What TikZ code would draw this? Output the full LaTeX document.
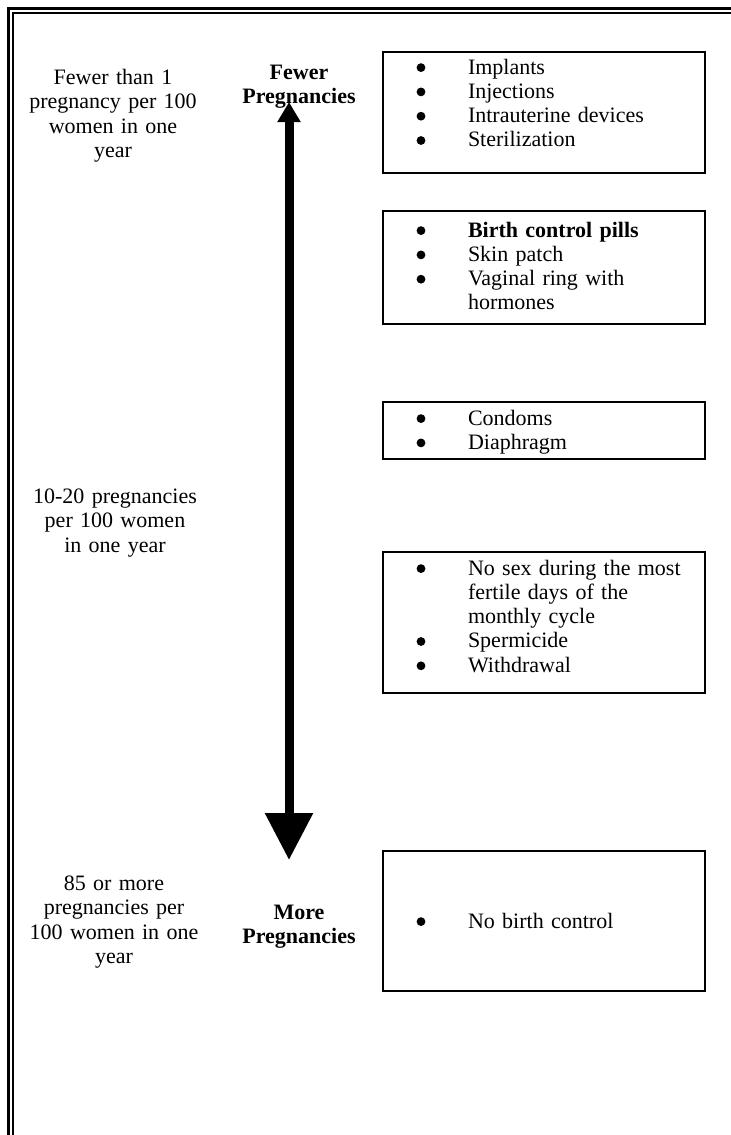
\documentclass[tikz,border=0pt]{standalone}
\usepackage{fontspec}
\setmainfont{Liberation Serif}
\usetikzlibrary{arrows.meta}
\newcommand{\dotmark}{\tikz[baseline=-3.2pt]\fill (0pt,0pt) circle (2.2pt);}
\newcommand{\itm}[1]{\makebox[42.5pt][l]{\hspace{16.8pt}\dotmark}#1}
\newcommand{\cnt}[1]{\hspace*{42.5pt}#1}

\begin{document}
\begin{tikzpicture}[x=0.5pt,y=-0.5pt,
   every node/.style={font=\fontsize{11}{12.15}\selectfont},
   listbox/.style={draw,line width=0.9pt,anchor=north west,inner sep=0pt,outer sep=0pt,text width=161pt,align=left},
   sidetext/.style={anchor=north,inner sep=0pt,text width=100pt,align=center,text height=8pt},
   endtext/.style={sidetext,text width=70pt,font=\fontsize{11}{11.8}\selectfont\bfseries},
   scale arrow/.style={line width=4.5pt,{Triangle[width=11pt,length=10pt]}-{Triangle[width=23pt,length=23.5pt]}}]
   \useasboundingbox (0,0) rectangle (730,1135);
   \draw[line width=1.5pt] (8.5,1140) -- (8.5,8.5) -- (735,8.5);
   \draw[line width=0.75pt] (13,1140) -- (13,13) -- (735,13);

   \node[sidetext] (l_1) at (113,68) {Fewer than 1\\pregnancy per 100\\women in one\\year};
   \node[sidetext] (l_2) at (115,487) {10-20 pregnancies\\per 100 women\\in one year};
   \node[sidetext] (l_3) at (114,874) {85 or more\\pregnancies per\\100 women in one\\year};

   \node[endtext] (p_few) at (299,63) {Fewer\\Pregnancies};
   \node[endtext] (p_more) at (299,903) {More\\Pregnancies};

   \node[listbox,text height=11pt,text depth=49.5pt] (b_1) at (383,52)
      {\itm{Implants}\\\itm{Injections}\\\itm{Intrauterine devices}\\\itm{Sterilization}};
   \node[listbox,text height=13pt,text depth=43.5pt] (b_2) at (383,211)
      {\itm{\textbf{Birth control pills}}\\\itm{Skin patch}\\\itm{Vaginal ring with}\\\cnt{hormones}};
   \node[listbox,text height=11.5pt,text depth=17pt] (b_3) at (383,402)
      {\itm{Condoms}\\\itm{Diaphragm}};
   \node[listbox,text height=11.5pt,text depth=59pt] (b_4) at (383,552)
      {\itm{No sex during the most}\\\cnt{fertile days of the}\\\cnt{monthly cycle}\\\itm{Spermicide}\\\itm{Withdrawal}};
   \node[listbox,text height=38.5pt,text depth=31.5pt] (b_5) at (383,851)
      {\itm{No birth control}};

   \coordinate (a_top) at (289,102);
   \coordinate (a_bot) at (289,860);
   \draw[scale arrow] (a_top) -- (a_bot);
\end{tikzpicture}
\end{document}
